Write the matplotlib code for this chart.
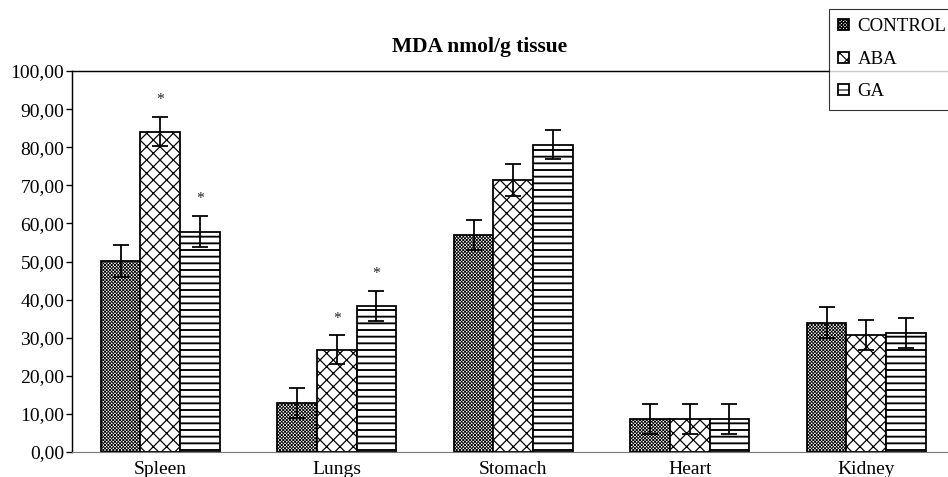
import matplotlib
matplotlib.use("Agg")
import matplotlib.pyplot as plt
import numpy as np

categories = ["Spleen", "Lungs", "Stomach", "Heart", "Kidney"]
series_names = ["CONTROL", "ABA", "GA"]
control = [50.1, 12.8, 57.0, 8.7, 33.9]
aba = [84.1, 26.8, 71.4, 8.7, 30.7]
ga = [57.8, 38.4, 80.6, 8.7, 31.2]
control_err = [4.1, 4.0, 4.0, 4.0, 4.1]
aba_err = [3.8, 3.8, 4.1, 4.0, 3.9]
ga_err = [4.1, 3.9, 3.8, 4.0, 4.0]
# significance markers (series index, category index)
stars = [(1, 0), (2, 0), (1, 1), (2, 1)]
yticks = [0, 10, 20, 30, 40, 50, 60, 70, 80, 90, 100]
title = "MDA nmol/g tissue"

plt.rcParams['font.family'] = ['Liberation Serif', 'DejaVu Serif']

DPI = 80
fig = plt.figure(figsize=(948 / DPI, 477 / DPI), dpi=DPI)
ax = fig.add_axes([72 / 948, 1 - 452 / 477, 882.5 / 948, (452 - 71) / 477])

x = np.arange(len(categories))
w = 0.224
vals = [control, aba, ga]
errs = [control_err, aba_err, ga_err]
hatches = ['xxxxxxxx', 'xx', '--']
hlw = [0.75, 1.1, 1.7]
faces = ['white', 'white', 'white']
handles = []
for i in range(3):
    with plt.rc_context({'hatch.linewidth': hlw[i], 'hatch.color': 'black'}):
        b = ax.bar(x + (i - 1) * w, vals[i], width=w, facecolor=faces[i],
                   edgecolor='black', linewidth=1.6, hatch=hatches[i],
                   label=series_names[i], zorder=2)
    handles.append(b)
    ax.errorbar(x + (i - 1) * w, vals[i], yerr=errs[i], fmt='none',
                ecolor='black', elinewidth=1.6, capsize=7, capthick=1.6, zorder=3)

for si, ci in stars:
    top = vals[si][ci] + errs[si][ci]
    ax.text(x[ci] + (si - 1) * w, top + 2.3, '*', ha='center', va='bottom',
            fontsize=14, color='#222222')

ax.set_xlim(-0.5, 4.5)
ax.set_ylim(0, 100)
ax.set_yticks(yticks)
ax.set_yticklabels([f"{v:.2f}".replace('.', ',') for v in yticks], fontsize=17.5)
ax.set_xticks(x)
ax.set_xticklabels(categories, fontsize=17.5)
ax.tick_params(axis='x', length=0, pad=8)
ax.tick_params(axis='y', length=5, width=1.2, direction='out', pad=2)
for s in ['left', 'top', 'right']:
    ax.spines[s].set_linewidth(1.3)
    ax.spines[s].set_color('black')
ax.spines['bottom'].set_color('#777777')
ax.spines['bottom'].set_linewidth(1.0)

fig.text(480 / 948, 1 - 47 / 477, title, ha='center', va='center',
         fontsize=19.3, fontweight='bold')

leg = fig.legend(handles=handles, labels=series_names, loc='upper left',
                 bbox_to_anchor=(829 / 948, 1 - 9 / 477), borderaxespad=0,
                 fontsize=17, frameon=True, fancybox=False, shadow=False,
                 handlelength=0.55, handleheight=0.55, handletextpad=0.45,
                 labelspacing=0.82, borderpad=0.5)
leg.get_frame().set_edgecolor('black')
leg.get_frame().set_linewidth(1.0)
leg.set_zorder(10)

fig.savefig('out.png', dpi=DPI)
